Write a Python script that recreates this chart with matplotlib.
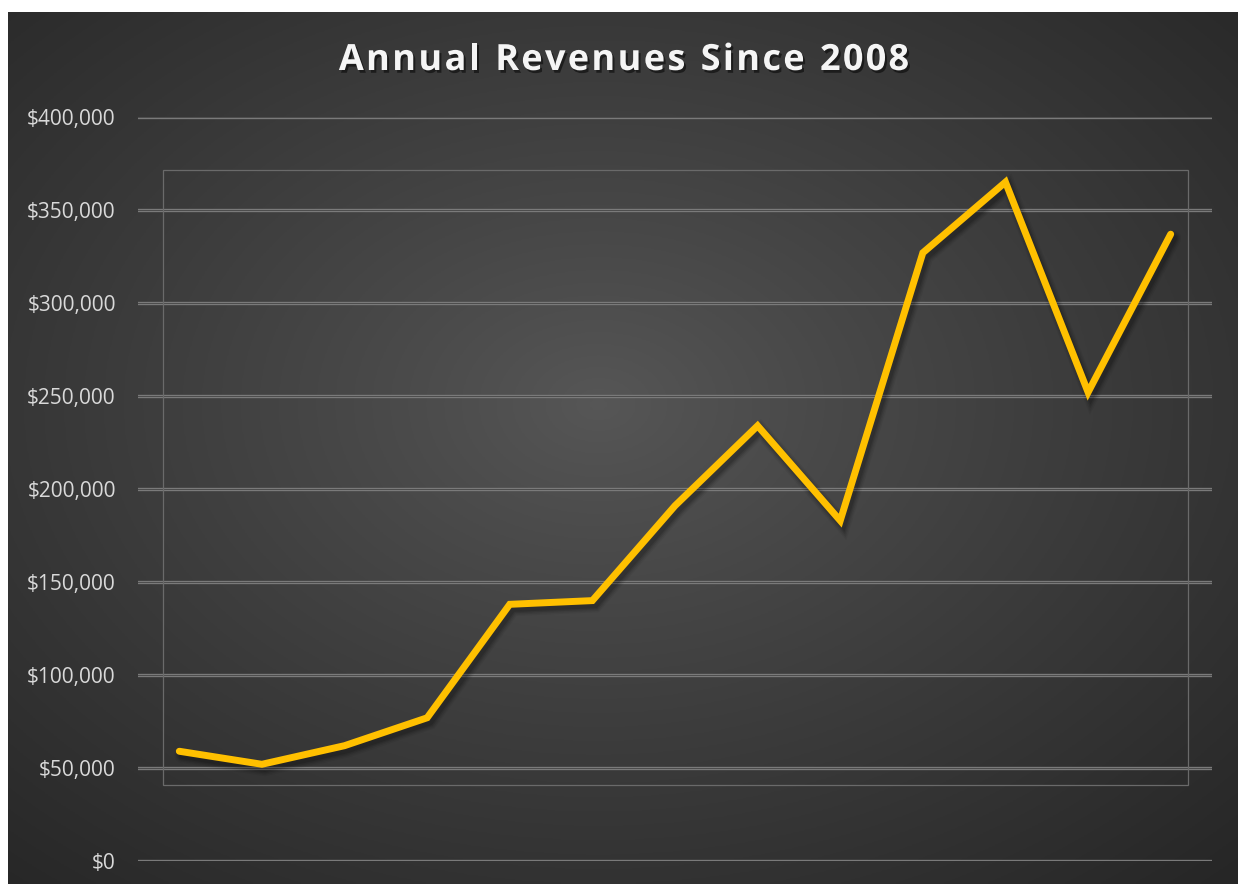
import numpy as np
import matplotlib.pyplot as plt
import matplotlib.patheffects as pe
from matplotlib.patches import Rectangle
from matplotlib.ticker import FuncFormatter

years = list(range(2008, 2021))
revenues = [59000, 52000, 62000, 77000, 138000, 140000, 191000,
            234000, 183000, 327000, 365000, 252000, 337000]
y_ticks = [0, 50000, 100000, 150000, 200000, 250000, 300000, 350000, 400000]
title = 'Annual Revenues Since 2008'

W, H = 1238, 884
fig = plt.figure(figsize=(W / 100, H / 100), dpi=100, facecolor='white')

# dark panel with a radial gradient
bg = fig.add_axes([8 / W, 0, 1 - 8 / W, 1 - 12 / H])
bg.set_axis_off()
gx, gy = np.meshgrid(np.linspace(0, 1, 400), np.linspace(0, 1, 300))
r = np.sqrt(((gx - 0.48) / 0.75) ** 2 + ((gy - 0.45) / 0.75) ** 2)
shade = 0.34 - 0.19 * np.clip(r, 0, 1) ** 0.9
bg.imshow(np.dstack([shade] * 3), extent=[0, 1, 0, 1], aspect='auto', origin='upper')
bg.set_xlim(0, 1)
bg.set_ylim(0, 1)

# odd inner plot-area frame
fig.patches.append(Rectangle((163 / W, 1 - 785 / H), (1188 - 163) / W, (785 - 170) / H,
                             transform=fig.transFigure, fill=False,
                             edgecolor='#6a6a6a', lw=0.9, zorder=1))

ax = fig.add_axes([138 / W, 1 - 861 / H, (1212 - 138) / W, (861 - 117) / H])
ax.patch.set_alpha(0)
ax.set_xlim(-0.5, len(years) - 0.5)
ax.set_ylim(0, 400000)
for s in ax.spines.values():
    s.set_visible(False)

for t in y_ticks:
    ax.axhline(t, color='#7a7a7a', lw=2.4, zorder=1)
    ax.axhline(t, color='#4c4c4c', lw=0.7, zorder=1)

x = np.arange(len(years))
shadow = [pe.SimpleLineShadow(offset=(2, -3), shadow_color='black', alpha=a, linewidth=w)
          for a, w in [(0.05, 11), (0.07, 9), (0.1, 7), (0.12, 5)]]
ax.plot(x, revenues, color='#FFC000', lw=5, solid_capstyle='round',
        solid_joinstyle='miter', zorder=3,
        path_effects=shadow + [pe.Normal()])

ax.set_xticks([])
ax.set_yticks(y_ticks)
ax.yaxis.set_major_formatter(FuncFormatter(lambda v, p: '${:,.0f}'.format(v)))
ax.tick_params(axis='y', length=0, pad=16, labelsize=15, labelcolor='#d9d9d9')
for lab in ax.get_yticklabels():
    lab.set_fontfamily('Open Sans')

# title with extra letter spacing, drawn one character at a time
renderer = fig.canvas.get_renderer()
tshadow = [pe.withSimplePatchShadow(offset=(1.5, -2), shadow_rgbFace='black', alpha=0.5)]
spacing = 2.3
tsize = 26
widths = []
for ch in title:
    t = fig.text(0, 0, ch if ch != ' ' else 'n', fontsize=tsize, fontweight='bold',
                 fontfamily='Open Sans')
    wpx = t.get_window_extent(renderer).width
    if ch == ' ':
        wpx *= 0.45
    widths.append(wpx)
    t.remove()
total = sum(widths) + spacing * (len(title) - 1)
xpos = 624 - total / 2
for ch, wpx in zip(title, widths):
    if ch != ' ':
        fig.text(xpos / W, 1 - 61 / H, ch, ha='left', va='center', color='#f5f5f5',
                 fontsize=tsize, fontweight='bold', fontfamily='Open Sans',
                 path_effects=tshadow)
    xpos += wpx + spacing

fig.savefig('out.png', dpi=100, facecolor='white')
